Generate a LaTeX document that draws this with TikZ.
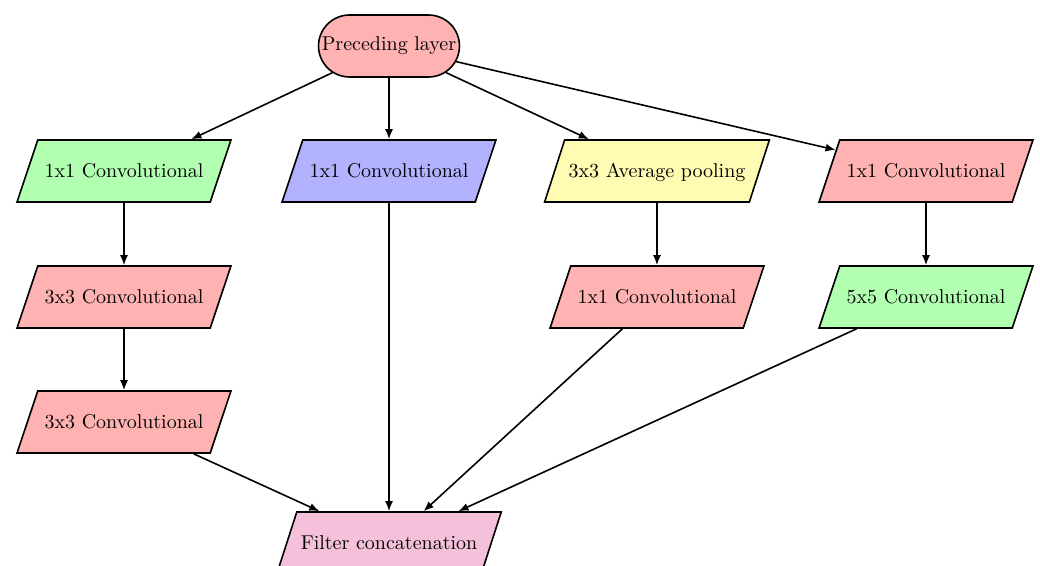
\documentclass[tikz,border=0pt]{standalone}
\usetikzlibrary{shapes.geometric,shapes.misc,arrows.meta}
\definecolor{concatpink}{RGB}{245,192,218}
\begin{document}
\begin{tikzpicture}[
  block/.style={trapezium, trapezium left angle=53.8, trapezium right angle=126.2,
    trapezium stretches=true, text height=7pt, text depth=0pt, inner xsep=2pt,
    draw, thick, minimum height=31pt, minimum width=107pt, text centered},
  inputbox/.style={rounded rectangle, draw, thick, fill=red!30,
    minimum height=31pt, inner xsep=1pt, inner ysep=2pt},
  conn/.style={thick, -{Latex[length=5pt,width=4pt]}}]
\useasboundingbox (0pt,0pt) rectangle (520pt,-283pt);

\node[inputbox] (prev) at (194.5pt,-23pt) {Preceding layer};

\node[block, fill=green!30]  (c1a) at (62pt,-85.5pt)    {1x1 Convolutional};
\node[block, fill=blue!30]   (c2a) at (194.5pt,-85.5pt) {1x1 Convolutional};
\node[block, fill=yellow!30] (c3a) at (328.5pt,-85.5pt) {3x3 Average pooling};
\node[block, fill=red!30]    (c4a) at (463pt,-85.5pt)   {1x1 Convolutional};

\node[block, fill=red!30]    (c1b) at (62pt,-148.5pt)    {3x3 Convolutional};
\node[block, fill=red!30]    (c3b) at (328.5pt,-148.5pt) {1x1 Convolutional};
\node[block, fill=green!30]  (c4b) at (463pt,-148.5pt)   {5x5 Convolutional};

\node[block, fill=red!30]    (c1c) at (62pt,-211pt) {3x3 Convolutional};

\node[block, fill=concatpink] (cat) at (194.5pt,-271.5pt) {Filter concatenation};

\draw[conn] (prev) -- (c1a);
\draw[conn] (prev) -- (c2a);
\draw[conn] (prev) -- (c3a);
\draw[conn] (prev) -- (c4a);

\draw[conn] (c1a) -- (c1b);
\draw[conn] (c1b) -- (c1c);
\draw[conn] (c3a) -- (c3b);
\draw[conn] (c4a) -- (c4b);

\draw[conn] (c1c) -- (cat);
\draw[conn] (c2a) -- (cat);
\draw[conn] (c3b) -- (cat);
\draw[conn] (c4b) -- (cat);
\end{tikzpicture}
\end{document}
